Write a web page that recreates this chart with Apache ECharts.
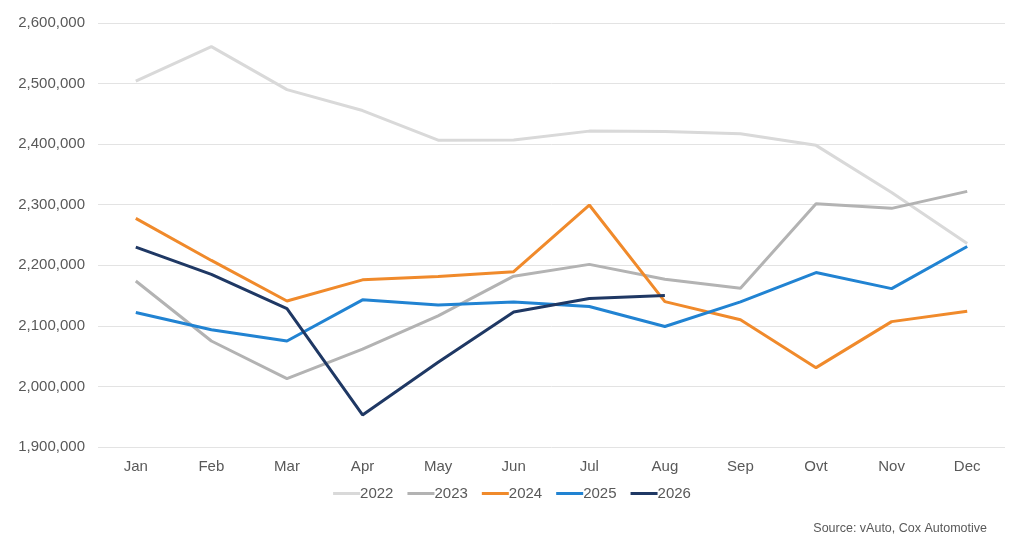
<!DOCTYPE html>
<html>
<head>
<meta charset="utf-8">
<script src="https://cdn.jsdelivr.net/npm/echarts@6/dist/echarts.min.js"></script>
<style>
  html, body { margin: 0; padding: 0; background: #fff; }
  #chart { width: 1024px; height: 553px; }
</style>
</head>
<body>
<div id="chart"></div>
<script>
var months = ['Jan', 'Feb', 'Mar', 'Apr', 'May', 'Jun', 'Jul', 'Aug', 'Sep', 'Ovt', 'Nov', 'Dec'];

var y2022 = [2504000, 2561000, 2490000, 2455500, 2406500, 2407000, 2421500, 2421000, 2417000, 2398000, 2320000, 2236000];
var y2023 = [2174000, 2075000, 2013000, 2061500, 2116500, 2182000, 2201500, 2177000, 2162000, 2301500, 2294000, 2322000];
var y2024 = [2277500, 2208000, 2141000, 2176000, 2181500, 2189500, 2299500, 2140000, 2110000, 2031000, 2107000, 2124000];
var y2025 = [2122000, 2093500, 2075000, 2143000, 2134500, 2139500, 2132000, 2099000, 2139500, 2188000, 2161500, 2231000];
var y2026 = [2230000, 2185000, 2128500, 1953000, 2040000, 2123000, 2145000, 2150000];

var seriesNames = ['2022', '2023', '2024', '2025', '2026'];
var seriesData = [y2022, y2023, y2024, y2025, y2026];
var colors = ['#d9d9d9', '#b3b3b3', '#f08a2b', '#2183d2', '#1f3864'];

var labelFont = 'Liberation Sans, Arial, sans-serif';

function fmt(v) {
    return v.toString().replace(/\B(?=(\d{3})+(?!\d))/g, ',');
}

var series = [];
for (var i = 0; i < seriesNames.length; i++) {
    series.push({
        name: seriesNames[i],
        type: 'line',
        data: seriesData[i],
        symbol: 'none',
        smooth: false,
        lineStyle: { width: 3, color: colors[i] },
        itemStyle: { color: colors[i] }
    });
}

var chart = echarts.init(document.getElementById('chart'));
chart.setOption({
    animation: false,
    grid: { left: 98, right: 19, top: 23, bottom: 106, containLabel: false },
    legend: {
        data: seriesNames,
        bottom: 47,
        left: 'center',
        itemWidth: 27,
        itemHeight: 3,
        itemGap: 14,
        icon: 'rect',
        textStyle: { color: '#595959', fontSize: 15, fontFamily: labelFont, padding: [0, 0, 0, -5] }
    },
    graphic: [{
        type: 'text',
        right: 37,
        top: 522,
        style: {
            text: 'Source: vAuto, Cox Automotive',
            fill: '#595959',
            font: '12.5px ' + labelFont
        }
    }],
    xAxis: {
        type: 'category',
        data: months,
        boundaryGap: true,
        axisLine: { show: false },
        axisTick: { show: false },
        axisLabel: { color: '#595959', fontSize: 15, fontFamily: labelFont, margin: 12 }
    },
    yAxis: {
        type: 'value',
        min: 1900000,
        max: 2600000,
        interval: 100000,
        axisLine: { show: false },
        axisTick: { show: false },
        splitLine: { lineStyle: { color: '#e3e3e3', width: 1 } },
        axisLabel: {
            color: '#595959', fontSize: 15, fontFamily: labelFont, margin: 13,
            formatter: fmt
        }
    },
    series: series
});
</script>
</body>
</html>
